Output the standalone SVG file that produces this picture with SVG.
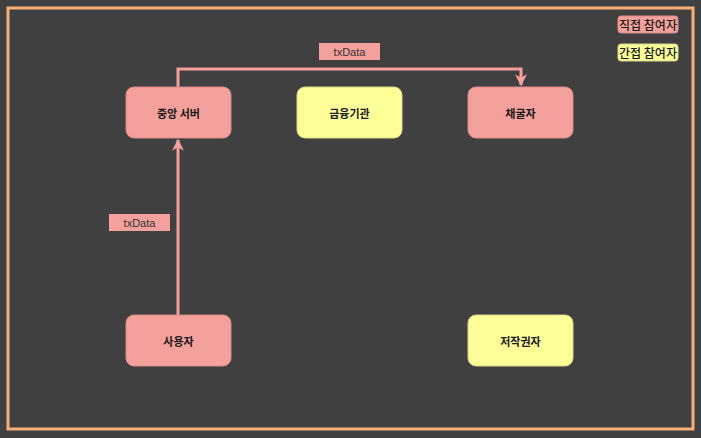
<svg xmlns="http://www.w3.org/2000/svg" width="701" height="438" viewBox="0 0 701 438">
<defs>
<style>
.n rect{stroke-width:1}
.p{fill:#F4A09C;stroke:#D98C88}
.y{fill:#FFFF99;stroke:#D6D68A}
text{font-family:"Noto Sans CJK KR","Noto Sans",sans-serif;font-size:11px;font-weight:bold;fill:#1a1a1a;text-anchor:middle;dominant-baseline:central}
.lg{font-size:12px;font-weight:500}
.lbl{font-family:"Liberation Sans",Arial,sans-serif;font-weight:normal;fill:#333}
.c{fill:none;stroke:#F4A09C;stroke-width:3}
</style>
<marker id="ah" viewBox="0 0 10 10" refX="9" refY="5" markerWidth="4" markerHeight="4" orient="auto" markerUnits="strokeWidth">
<path d="M0,0 L10,5 L0,10 L3,5 Z" fill="#F4A09C"/>
</marker>
</defs>
<rect width="701" height="438" fill="#404040"/>
<rect x="8" y="8" width="685" height="421" fill="none" stroke="#F5B07A" stroke-width="3"/>
<g id="connectors">
<path class="c" d="M178,87 V69 H521 V85" marker-end="url(#ah)"/>
<rect x="319" y="43" width="61" height="17" fill="#F4A09C"/>
<text class="lbl" x="349.5" y="51.5">txData</text>
<path class="c" d="M178,315 V140" marker-end="url(#ah)"/>
<rect x="109" y="214" width="61" height="17" fill="#F4A09C"/>
<text class="lbl" x="139.5" y="222.5">txData</text>
</g>
<g id="server" class="n"><rect class="p" x="126" y="87" width="105" height="51" rx="8"/><text x="178.5" y="112.5">중앙 서버</text></g>
<g id="bank" class="n"><rect class="y" x="297" y="87" width="105" height="51" rx="8"/><text x="349.5" y="112.5">금융기관</text></g>
<g id="miner" class="n"><rect class="p" x="468" y="87" width="105" height="51" rx="8"/><text x="520.5" y="112.5">채굴자</text></g>
<g id="user" class="n"><rect class="p" x="126" y="315" width="105" height="51" rx="8"/><text x="178.5" y="340.5">사용자</text></g>
<g id="author" class="n"><rect class="y" x="468" y="315" width="105" height="51" rx="8"/><text x="520.5" y="340.5">저작권자</text></g>
<g id="legend-direct" class="n"><rect class="p" x="618" y="16" width="60" height="17" rx="3"/><text class="lg" x="648" y="24.5">직접 참여자</text></g>
<g id="legend-indirect" class="n"><rect class="y" x="618" y="44" width="60" height="17" rx="3"/><text class="lg" x="648" y="52.5">간접 참여자</text></g>
</svg>
